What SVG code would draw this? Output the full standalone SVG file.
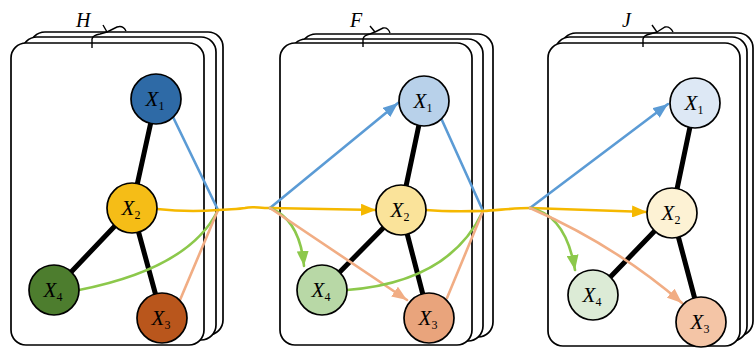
<svg xmlns="http://www.w3.org/2000/svg" width="755" height="349" viewBox="0 0 755 349">
<defs>
<style>
.frame{fill:#fff;stroke:#000;stroke-width:1.7}
.brace{fill:none;stroke:#000;stroke-width:1.4}
.plabel{font-family:"Liberation Serif",serif;font-style:italic;font-size:20px;fill:#000}
.edge{stroke:#000;stroke-width:5;stroke-linecap:round}
.node{stroke:#000;stroke-width:1.7}
.lbl{font-family:"Liberation Serif",serif;font-size:21px;fill:#000;text-anchor:middle}
.lbl .v{font-style:italic}
.lbl .s{font-size:12px}
.c{fill:none;stroke-width:2.6;stroke-linecap:round}
.blue{stroke:#5b9bd5}.yel{stroke:#f5b800}.grn{stroke:#8cc84b}.org{stroke:#f1ad84}
</style>
<marker id="ab" markerUnits="userSpaceOnUse" markerWidth="16" markerHeight="12" refX="15" refY="6" orient="auto"><path d="M0,0 L15,6 L0,12 z" fill="#5b9bd5"/></marker>
<marker id="ay" markerUnits="userSpaceOnUse" markerWidth="16" markerHeight="12" refX="15" refY="6" orient="auto"><path d="M0,0 L15,6 L0,12 z" fill="#f5b800"/></marker>
<marker id="ag" markerUnits="userSpaceOnUse" markerWidth="16" markerHeight="12" refX="15" refY="6" orient="auto"><path d="M0,0 L15,6 L0,12 z" fill="#8cc84b"/></marker>
<marker id="ao" markerUnits="userSpaceOnUse" markerWidth="16" markerHeight="12" refX="15" refY="6" orient="auto"><path d="M0,0 L15,6 L0,12 z" fill="#f1ad84"/></marker>
</defs>

<g id="panel-H">
<rect class="frame" x="30" y="32" width="193" height="303" rx="15"/>
<rect class="frame" x="22" y="37" width="194" height="303" rx="15"/>
<rect class="frame" x="11" y="43" width="193" height="302" rx="15"/>
<path class="brace" d="M92,48 L92,39 Q93,35 100,34 L107,32 L103,25 M107,32 L117,27 Q123,25 126,31"/>
<text class="plabel" x="76" y="27">H</text>
</g>
<g id="panel-F">
<rect class="frame" x="301" y="34" width="192" height="303" rx="15"/>
<rect class="frame" x="291" y="39" width="192" height="302" rx="15"/>
<rect class="frame" x="280" y="43" width="192" height="302" rx="15"/>
<path class="brace" d="M363,47 L363,39 Q364,35 370,34 L375,32 L370,26 M375,32 L383,28 Q388,27 390,33"/>
<text class="plabel" x="350" y="27">F</text>
</g>
<g id="panel-J">
<rect class="frame" x="561" y="33" width="192" height="303" rx="15"/>
<rect class="frame" x="555" y="37" width="192" height="304" rx="15"/>
<rect class="frame" x="548" y="43" width="192" height="303" rx="15"/>
<path class="brace" d="M643,47 L643,39 Q644,35 650,34 L657,32 L652,25 M657,32 L665,27 Q670,26 673,32"/>
<text class="plabel" x="622" y="27">J</text>
</g>

<g id="edges">
<line class="edge" x1="156" y1="99" x2="132" y2="208"/>
<line class="edge" x1="132" y1="208" x2="54" y2="290"/>
<line class="edge" x1="132" y1="208" x2="162" y2="318"/>
<line class="edge" x1="424" y1="101" x2="401" y2="210"/>
<line class="edge" x1="401" y1="210" x2="322" y2="290"/>
<line class="edge" x1="401" y1="210" x2="429" y2="318"/>
<line class="edge" x1="695" y1="103" x2="672" y2="213"/>
<line class="edge" x1="672" y1="213" x2="593" y2="295"/>
<line class="edge" x1="672" y1="213" x2="701" y2="322"/>
</g>

<g id="connectors">
<path class="c blue" d="M173,117 L218,210"/>
<path class="c grn" d="M79,290 Q190,268 218,210"/>
<path class="c org" d="M180,300 L218,210"/>
<path class="c yel" d="M157,209 C185,212 205,211 218,210 C232,209 240,209 245,208 C252,206 258,208 270,208"/>
<path class="c blue" d="M270,208 L398,103" marker-end="url(#ab)"/>
<path class="c yel" d="M270,208 L376,210" marker-end="url(#ay)"/>
<path class="c grn" d="M270,208 Q300,220 304,266" marker-end="url(#ag)"/>
<path class="c org" d="M270,208 L407,300" marker-end="url(#ao)"/>
<path class="c blue" d="M441,118 L483,211"/>
<path class="c grn" d="M347,290 Q450,282 483,211"/>
<path class="c org" d="M447,298 L483,211"/>
<path class="c yel" d="M426,210 C450,212 470,211 483,211 C500,210 515,208 530,208"/>
<path class="c blue" d="M530,208 L668,104" marker-end="url(#ab)"/>
<path class="c yel" d="M530,208 L647,212" marker-end="url(#ay)"/>
<path class="c grn" d="M530,208 Q566,215 575,270" marker-end="url(#ag)"/>
<path class="c org" d="M530,208 Q615,245 682,303" marker-end="url(#ao)"/>
</g>

<g id="H-X1"><circle class="node" cx="156" cy="99" r="25" fill="#2e6aa6"/><text class="lbl" x="155" y="106"><tspan class="v">X</tspan><tspan class="s" dy="4">1</tspan></text></g>
<g id="H-X2"><circle class="node" cx="132" cy="208" r="25" fill="#f5bd17"/><text class="lbl" x="131" y="215"><tspan class="v">X</tspan><tspan class="s" dy="4">2</tspan></text></g>
<g id="H-X4"><circle class="node" cx="54" cy="290" r="25" fill="#4d7d2e"/><text class="lbl" x="53" y="297"><tspan class="v">X</tspan><tspan class="s" dy="4">4</tspan></text></g>
<g id="H-X3"><circle class="node" cx="162" cy="318" r="25" fill="#b9561c"/><text class="lbl" x="161" y="325"><tspan class="v">X</tspan><tspan class="s" dy="4">3</tspan></text></g>

<g id="F-X1"><circle class="node" cx="424" cy="101" r="25" fill="#b8d1ea"/><text class="lbl" x="423" y="108"><tspan class="v">X</tspan><tspan class="s" dy="4">1</tspan></text></g>
<g id="F-X2"><circle class="node" cx="401" cy="210" r="25" fill="#fae39a"/><text class="lbl" x="400" y="217"><tspan class="v">X</tspan><tspan class="s" dy="4">2</tspan></text></g>
<g id="F-X4"><circle class="node" cx="322" cy="290" r="25" fill="#b8d8a6"/><text class="lbl" x="321" y="297"><tspan class="v">X</tspan><tspan class="s" dy="4">4</tspan></text></g>
<g id="F-X3"><circle class="node" cx="429" cy="318" r="25" fill="#e9a47c"/><text class="lbl" x="428" y="325"><tspan class="v">X</tspan><tspan class="s" dy="4">3</tspan></text></g>

<g id="J-X1"><circle class="node" cx="695" cy="103" r="25" fill="#dde8f5"/><text class="lbl" x="694" y="110"><tspan class="v">X</tspan><tspan class="s" dy="4">1</tspan></text></g>
<g id="J-X2"><circle class="node" cx="672" cy="213" r="25" fill="#fdf2d4"/><text class="lbl" x="671" y="220"><tspan class="v">X</tspan><tspan class="s" dy="4">2</tspan></text></g>
<g id="J-X4"><circle class="node" cx="593" cy="295" r="25" fill="#dcebd6"/><text class="lbl" x="592" y="302"><tspan class="v">X</tspan><tspan class="s" dy="4">4</tspan></text></g>
<g id="J-X3"><circle class="node" cx="701" cy="322" r="25" fill="#f4c5a6"/><text class="lbl" x="700" y="329"><tspan class="v">X</tspan><tspan class="s" dy="4">3</tspan></text></g>
</svg>
